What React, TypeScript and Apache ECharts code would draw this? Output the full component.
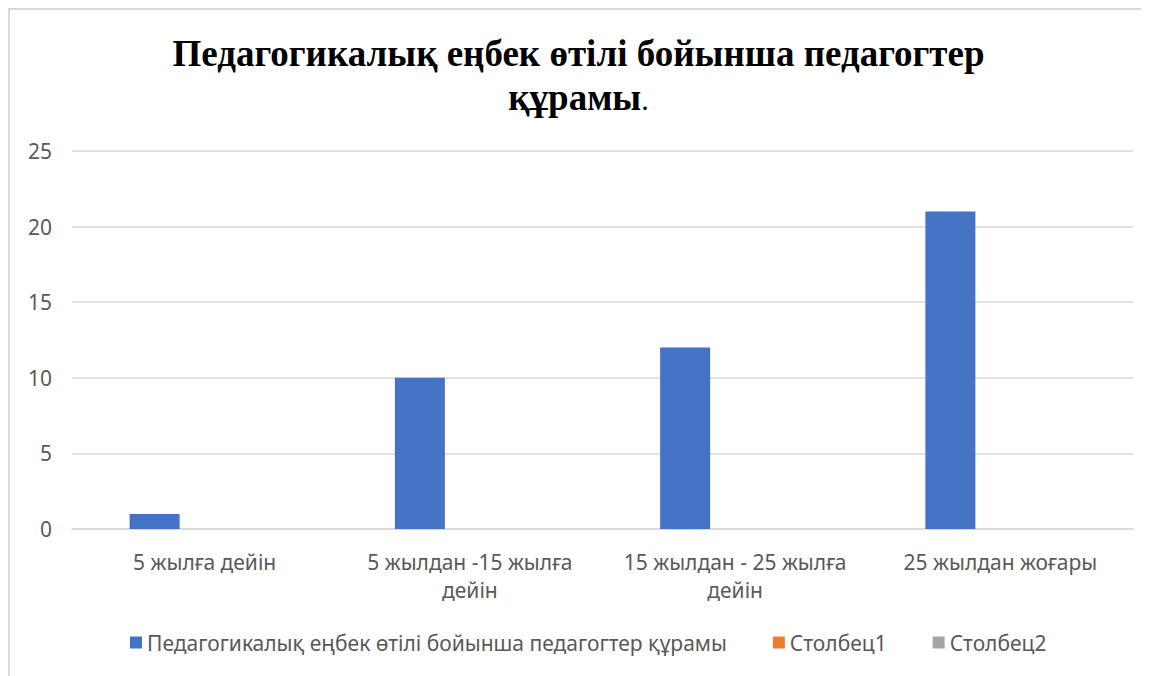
import React, { useEffect, useRef } from "react";
import * as echarts from "echarts";

const categories = [
  "5 жылға дейін",
  "5 жылдан -15 жылға дейін",
  "15 жылдан - 25 жылға дейін",
  "25 жылдан жоғары",
];
const seriesNames = [
  "Педагогикалық еңбек өтілі бойынша педагогтер құрамы",
  "Столбец1",
  "Столбец2",
];
const mainValues = [1, 10, 12, 21];
const col1Values: (number | null)[] = [null, null, null, null];
const col2Values: (number | null)[] = [null, null, null, null];
const yTicks = { min: 0, max: 25, interval: 5 };

const FONT = "'Noto Sans', sans-serif";
const SERIF = "'Liberation Serif', 'Times New Roman', serif";
const TXT = "#595959";

export default function App() {
  const ref = useRef<HTMLDivElement>(null);
  useEffect(() => {
    if (!ref.current) return;
    const chart = echarts.init(ref.current, undefined, { renderer: "svg" });
    chart.setOption({
      animation: false,
      backgroundColor: "#ffffff",
      title: {
        left: "center",
        top: 23,
        padding: [0, 0, 0, 12],
        text: "{b|Педагогикалық еңбек өтілі бойынша педагогтер}\n{b|құрамы}{n|.}",
        textStyle: {
          fontFamily: SERIF,
          fontSize: 37,
          lineHeight: 44,
          color: "#000",
          rich: {
            b: {
              fontFamily: SERIF,
              fontSize: 37,
              fontWeight: "bold",
              lineHeight: 44,
              color: "#000",
            },
            n: {
              fontFamily: SERIF,
              fontSize: 30,
              fontWeight: "normal",
              lineHeight: 44,
              color: "#000",
              padding: [5, 0, 0, 0],
            },
          },
        },
      },
      graphic: [
        { type: "line", shape: { x1: 0, y1: 1, x2: 1141, y2: 1 }, style: { stroke: "#d9d9d9", lineWidth: 2 } },
        { type: "line", shape: { x1: 1, y1: 0, x2: 1, y2: 668 }, style: { stroke: "#d9d9d9", lineWidth: 2 } },
      ],
      legend: {
        left: 117,
        top: 619,
        itemWidth: 12,
        itemHeight: 12,
        itemGap: 46,
        icon: "rect",
        textStyle: { fontFamily: FONT, fontSize: 21, color: TXT },
        data: seriesNames,
      },
      grid: { left: 64, right: 16, top: 143, bottom: 147, containLabel: false },
      xAxis: {
        type: "category",
        data: categories,
        axisLine: { lineStyle: { color: "#d9d9d9", width: 1.5 } },
        axisTick: { show: false },
        axisLabel: {
          interval: 0,
          margin: 19,
          fontFamily: FONT,
          fontSize: 21,
          lineHeight: 28,
          color: TXT,
          formatter: (v: string) => {
            if (v.length > 16) {
              const i = v.lastIndexOf(" ");
              return v.slice(0, i) + "\n" + v.slice(i + 1);
            }
            return v;
          },
        },
      },
      yAxis: {
        type: "value",
        min: yTicks.min,
        max: yTicks.max,
        interval: yTicks.interval,
        axisLine: { show: false },
        axisTick: { show: false },
        splitLine: { lineStyle: { color: "#d9d9d9", width: 1.5 } },
        axisLabel: { margin: 20, fontFamily: FONT, fontSize: 21, color: TXT },
      },
      series: [
        { name: seriesNames[0], type: "bar", data: mainValues, barWidth: 50, barGap: "0%", itemStyle: { color: "#4472C4" } },
        { name: seriesNames[1], type: "bar", data: col1Values, barWidth: 50, barGap: "0%", itemStyle: { color: "#ED7D31" } },
        { name: seriesNames[2], type: "bar", data: col2Values, barWidth: 50, barGap: "0%", itemStyle: { color: "#A5A5A5" } },
      ],
    });
    return () => chart.dispose();
  }, []);
  return <div ref={ref} style={{ width: 1141, height: 668 }} />;
}
